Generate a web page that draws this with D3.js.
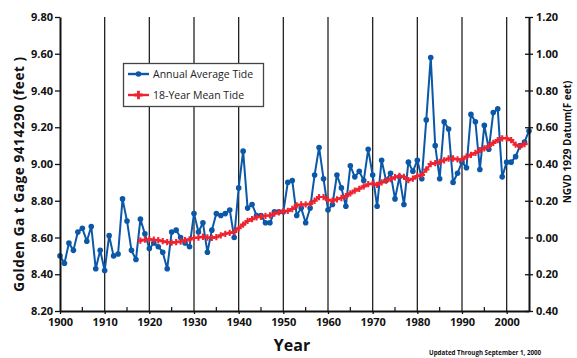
<!DOCTYPE html>
<html>
<head>
<meta charset="utf-8">
<script src="https://cdn.jsdelivr.net/npm/d3@7"></script>
<style>
  html, body { margin: 0; padding: 0; background: #fff; }
  svg { display: block; font-family: "Open Sans", "DejaVu Sans", sans-serif; }
</style>
</head>
<body>
<svg id="chart" width="577" height="358"></svg>
<script>
// Golden Gate tide gage: annual average tide, 1900-2005 (feet)
const annualYearStart = 1900;
const annualTide = [
  8.50, 8.46, 8.57, 8.53, 8.63, 8.65, 8.58, 8.66, 8.43, 8.53,
  8.42, 8.61, 8.50, 8.51, 8.81, 8.69, 8.53, 8.48, 8.70, 8.62,
  8.54, 8.57, 8.55, 8.52, 8.43, 8.63, 8.64, 8.60, 8.57, 8.55,
  8.73, 8.63, 8.68, 8.52, 8.64, 8.73, 8.72, 8.73, 8.75, 8.60,
  8.87, 9.07, 8.76, 8.78, 8.72, 8.72, 8.68, 8.68, 8.74, 8.74,
  8.74, 8.90, 8.91, 8.72, 8.76, 8.68, 8.76, 8.94, 9.09, 8.92,
  8.75, 8.78, 8.94, 8.87, 8.77, 8.99, 8.93, 8.96, 8.91, 9.08,
  8.94, 8.77, 9.02, 8.91, 8.95, 8.81, 8.93, 8.78, 9.01, 8.96,
  9.02, 8.92, 9.24, 9.58, 9.10, 8.92, 9.23, 9.19, 8.90, 8.95,
  9.01, 8.98, 9.27, 9.23, 8.97, 9.21, 9.08, 9.28, 9.30, 8.93,
  9.01, 9.01, 9.04, 9.10, 9.12, 9.18
];

// 18-year running mean, 1918-2004 (feet)
const meanYearStart = 1918;
const meanTide = [
  8.583, 8.588, 8.590, 8.588, 8.585, 8.580, 8.575, 8.572, 8.575, 8.578,
  8.585, 8.590, 8.597, 8.600, 8.604, 8.600, 8.598, 8.602, 8.612, 8.620,
  8.625, 8.630, 8.650, 8.670, 8.690, 8.700, 8.710, 8.713, 8.718, 8.720,
  8.730, 8.737, 8.742, 8.745, 8.755, 8.775, 8.780, 8.780, 8.783, 8.800,
  8.820, 8.820, 8.805, 8.800, 8.808, 8.815, 8.825, 8.840, 8.855, 8.865,
  8.878, 8.890, 8.893, 8.886, 8.900, 8.910, 8.918, 8.928, 8.935, 8.930,
  8.912, 8.920, 8.935, 8.940, 8.970, 9.000, 9.005, 9.012, 9.020, 9.030,
  9.030, 9.025, 9.025, 9.040, 9.050, 9.060, 9.075, 9.085, 9.098, 9.115,
  9.130, 9.140, 9.140, 9.130, 9.105, 9.095, 9.108
];

const leftTicks = [8.2, 8.4, 8.6, 8.8, 9.0, 9.2, 9.4, 9.6, 9.8];
const rightTicks = [-0.4, -0.2, 0.0, 0.2, 0.4, 0.6, 0.8, 1.0, 1.2];
const decadeTicks = [1900, 1910, 1920, 1930, 1940, 1950, 1960, 1970, 1980, 1990, 2000];
const halfDecadeTicks = [1905, 1915, 1925, 1935, 1945, 1955, 1965, 1975, 1985, 1995];
const legendLabels = ["Annual Average Tide", "18-Year Mean Tide"];

const annual = annualTide.map((v, i) => ({ year: annualYearStart + i, value: v }));
const mean = meanTide.map((v, i) => ({ year: meanYearStart + i, value: v }));

const blue = "#0b57a8";
const red = "#ee2330";

const svg = d3.select("#chart");
const plotLeft = 60, plotRight = 529, plotTop = 17, plotBottom = 311;

const x = d3.scaleLinear().domain([1900, 2005]).range([plotLeft, plotRight]);
const y = d3.scaleLinear().domain([8.2, 9.8]).range([plotBottom, plotTop]);
const yR = d3.scaleLinear().domain([-0.4, 1.2]).range([plotBottom, plotTop]);

// Vertical decade grid lines
svg.append("g")
  .selectAll("line")
  .data(decadeTicks.filter(d => d > 1900))
  .join("line")
  .attr("x1", d => x(d)).attr("x2", d => x(d))
  .attr("y1", plotTop).attr("y2", plotBottom)
  .attr("stroke", "#222").attr("stroke-width", 1.3);

// Annual average series
svg.append("path")
  .datum(annual)
  .attr("fill", "none")
  .attr("stroke", blue)
  .attr("stroke-width", 2)
  .attr("stroke-linejoin", "round")
  .attr("d", d3.line().x(d => x(d.year)).y(d => y(d.value)));

svg.append("g")
  .selectAll("circle")
  .data(annual)
  .join("circle")
  .attr("cx", d => x(d.year)).attr("cy", d => y(d.value))
  .attr("r", 2.8)
  .attr("fill", blue);

// 18-year mean series with plus markers
svg.append("path")
  .datum(mean)
  .attr("fill", "none")
  .attr("stroke", red)
  .attr("stroke-width", 2)
  .attr("d", d3.line().x(d => x(d.year)).y(d => y(d.value)));

const plus = d3.symbol().type(d3.symbolCross).size(22);
svg.append("g")
  .selectAll("path")
  .data(mean)
  .join("path")
  .attr("transform", d => `translate(${x(d.year)},${y(d.value)})`)
  .attr("d", plus)
  .attr("fill", red);

// Axes
const axisFont = g => g.selectAll("text")
  .attr("font-family", "Open Sans, sans-serif")
  .attr("font-weight", 700)
  .attr("font-size", 11)
  .attr("fill", "#111");

const leftAxis = svg.append("g")
  .attr("transform", `translate(${plotLeft},0)`)
  .call(d3.axisLeft(y).tickValues(leftTicks).tickFormat(d3.format(".2f")).tickSize(5).tickPadding(2).tickSizeOuter(0));
leftAxis.call(axisFont);

const rightAxis = svg.append("g")
  .attr("transform", `translate(${plotRight},0)`)
  .call(d3.axisRight(yR).tickValues(rightTicks).tickFormat(d => d3.format(".2f")(Math.abs(d))).tickSize(4).tickPadding(3).tickSizeOuter(0));
rightAxis.call(axisFont);
rightAxis.selectAll(".tick line").attr("x1", -4);

const bottomAxis = svg.append("g")
  .attr("transform", `translate(0,${plotBottom})`)
  .call(d3.axisBottom(x).tickValues(decadeTicks).tickFormat(d3.format("d")).tickSize(3).tickPadding(4).tickSizeOuter(0));
bottomAxis.call(axisFont);

// Half-decade minor ticks pointing up
svg.append("g")
  .selectAll("line")
  .data(halfDecadeTicks)
  .join("line")
  .attr("x1", d => x(d)).attr("x2", d => x(d))
  .attr("y1", plotBottom).attr("y2", plotBottom - 4)
  .attr("stroke", "#111").attr("stroke-width", 1.2);

[leftAxis, rightAxis, bottomAxis].forEach(g => {
  g.select(".domain").attr("stroke", "#111").attr("stroke-width", 2);
  g.selectAll(".tick line").attr("stroke", "#111").attr("stroke-width", 1.3);
});

// Axis titles
svg.append("text")
  .attr("transform", `translate(24,${(plotTop + plotBottom) / 2 + 10}) rotate(-90)`)
  .attr("text-anchor", "middle")
  .attr("font-weight", 700)
  .attr("font-size", 13.5)
  .attr("letter-spacing", 0.6)
  .attr("fill", "#111")
  .text("Golden Ga t Gage 9414290 (feet  )");

svg.append("text")
  .attr("transform", `translate(571,142) rotate(-90)`)
  .attr("text-anchor", "middle")
  .attr("font-weight", 700)
  .attr("font-size", 10)
  .attr("fill", "#111")
  .text("NGVD 1929 Datum(F eet)");

svg.append("text")
  .attr("x", 292).attr("y", 351)
  .attr("text-anchor", "middle")
  .attr("font-weight", 700)
  .attr("font-size", 16)
  .attr("fill", "#111")
  .text("Year");

svg.append("text")
  .attr("x", 485).attr("y", 355)
  .attr("text-anchor", "middle")
  .attr("font-weight", 700)
  .attr("font-size", 6.2)
  .attr("fill", "#111")
  .text("Updated Through September 1, 2000");

// Legend
const legend = svg.append("g");
legend.append("rect")
  .attr("x", 123.5).attr("y", 63.5)
  .attr("width", 140).attr("height", 43)
  .attr("fill", "#fff")
  .attr("stroke", "#444").attr("stroke-width", 1.3);

const legendRows = [
  { label: legendLabels[0], color: blue, marker: "circle", cy: 74 },
  { label: legendLabels[1], color: red, marker: "plus", cy: 95 }
];
legendRows.forEach(r => {
  legend.append("line")
    .attr("x1", 128).attr("x2", 149)
    .attr("y1", r.cy).attr("y2", r.cy)
    .attr("stroke", r.color).attr("stroke-width", 2.4);
  if (r.marker === "circle") {
    legend.append("circle").attr("cx", 138.5).attr("cy", r.cy).attr("r", 2.8).attr("fill", r.color);
  } else {
    legend.append("path")
      .attr("transform", `translate(138.5,${r.cy})`)
      .attr("d", d3.symbol().type(d3.symbolCross).size(40))
      .attr("fill", r.color);
  }
  legend.append("text")
    .attr("x", 153).attr("y", r.cy + 4)
    .attr("font-size", 10.5)
    .attr("font-weight", 500)
    .attr("fill", "#222")
    .text(r.label);
});
</script>
</body>
</html>
